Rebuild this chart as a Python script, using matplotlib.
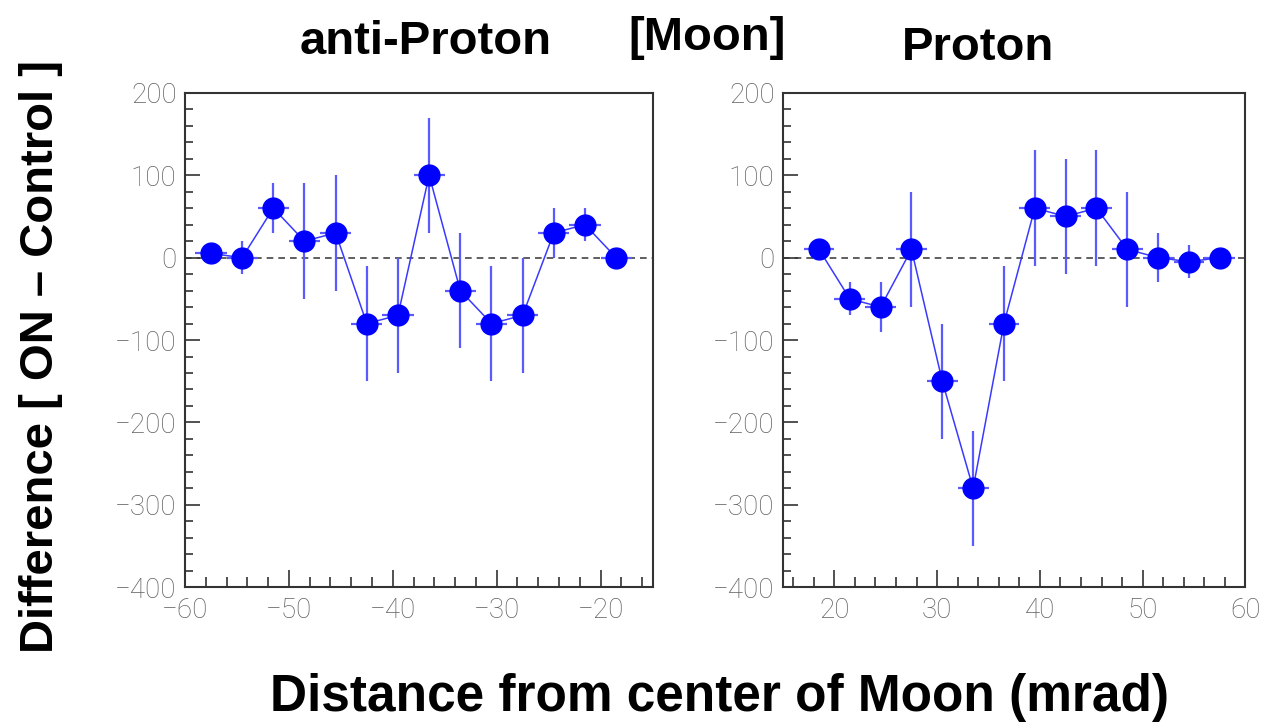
import numpy as np
import matplotlib.pyplot as plt
from matplotlib.ticker import MultipleLocator

# anti-proton side (negative distance)
x_anti = [-57.5, -54.5, -51.5, -48.5, -45.5, -42.5, -39.5, -36.5, -33.5, -30.5, -27.5, -24.5, -21.5, -18.5]
y_anti = [5, 0, 60, 20, 30, -80, -70, 100, -40, -80, -70, 30, 40, 0]
e_anti = [8, 20, 30, 70, 70, 70, 70, 70, 70, 70, 70, 30, 20, 5]

# proton side (positive distance)
x_prot = [18.5, 21.5, 24.5, 27.5, 30.5, 33.5, 36.5, 39.5, 42.5, 45.5, 48.5, 51.5, 54.5, 57.5]
y_prot = [10, -50, -60, 10, -150, -280, -80, 60, 50, 60, 10, 0, -5, 0]
e_prot = [5, 20, 30, 70, 70, 70, 70, 70, 70, 70, 70, 30, 20, 5]

bin_half = 1.5

fig = plt.figure(figsize=(12.67, 7.25), dpi=100)
ax1 = fig.add_axes([0.146, 0.190, 0.369, 0.682])
ax2 = fig.add_axes([0.618, 0.190, 0.365, 0.682])

bold_font = ['Liberation Sans Narrow', 'Liberation Sans', 'DejaVu Sans']


def draw_panel(ax, x, y, err, xlim):
    ax.axhline(0, color='#444444', linestyle=(0, (4, 3)), linewidth=1.2, zorder=1)
    ax.errorbar(x, y, xerr=bin_half, yerr=err, fmt='none', ecolor='#5a5aff',
                elinewidth=1.6, capsize=0, zorder=2)
    ax.plot(x, y, color='#3a3aff', linewidth=1.1, zorder=3)
    ax.plot(x, y, 'o', color='#0000ff', markersize=15, zorder=4)

    ax.set_xlim(*xlim)
    ax.set_ylim(-400, 200)
    ax.xaxis.set_major_locator(MultipleLocator(10))
    ax.xaxis.set_minor_locator(MultipleLocator(2))
    ax.yaxis.set_major_locator(MultipleLocator(100))
    ax.yaxis.set_minor_locator(MultipleLocator(20))
    ax.tick_params(which='both', direction='in', top=False, right=False,
                   color='#333333', width=1.2)
    ax.tick_params(axis='y', which='major', length=11, pad=6)
    ax.tick_params(axis='x', which='major', length=12, pad=7)
    ax.tick_params(axis='y', which='minor', length=6)
    ax.tick_params(axis='x', which='minor', length=7)
    for s in ax.spines.values():
        s.set_color('#333333')
        s.set_linewidth(1.5)
    for lab in ax.get_xticklabels() + ax.get_yticklabels():
        lab.set_fontfamily('Roboto')
        lab.set_fontweight('light')
        lab.set_fontsize(20)
        lab.set_color('#606060')


draw_panel(ax1, x_anti, y_anti, e_anti, (-60, -15))
draw_panel(ax2, x_prot, y_prot, e_prot, (15, 60))

fig.text(0.336, 0.942, 'anti-Proton', ha='center', va='center', fontsize=34,
         fontweight='bold', family=bold_font)
fig.text(0.558, 0.948, '[Moon]', ha='center', va='center', fontsize=34,
         fontweight='bold', family=bold_font)
fig.text(0.772, 0.934, 'Proton', ha='center', va='center', fontsize=34,
         fontweight='bold', family=bold_font)
fig.text(0.032, 0.508, 'Difference [ ON \u2013 Control ]', ha='center', va='center',
         rotation=90, fontsize=34, fontweight='bold', family=bold_font)
fig.text(0.568, 0.038, 'Distance from center of Moon (mrad)', ha='center', va='center',
         fontsize=37, fontweight='bold', family=bold_font)

fig.savefig('out.png', dpi=100)
